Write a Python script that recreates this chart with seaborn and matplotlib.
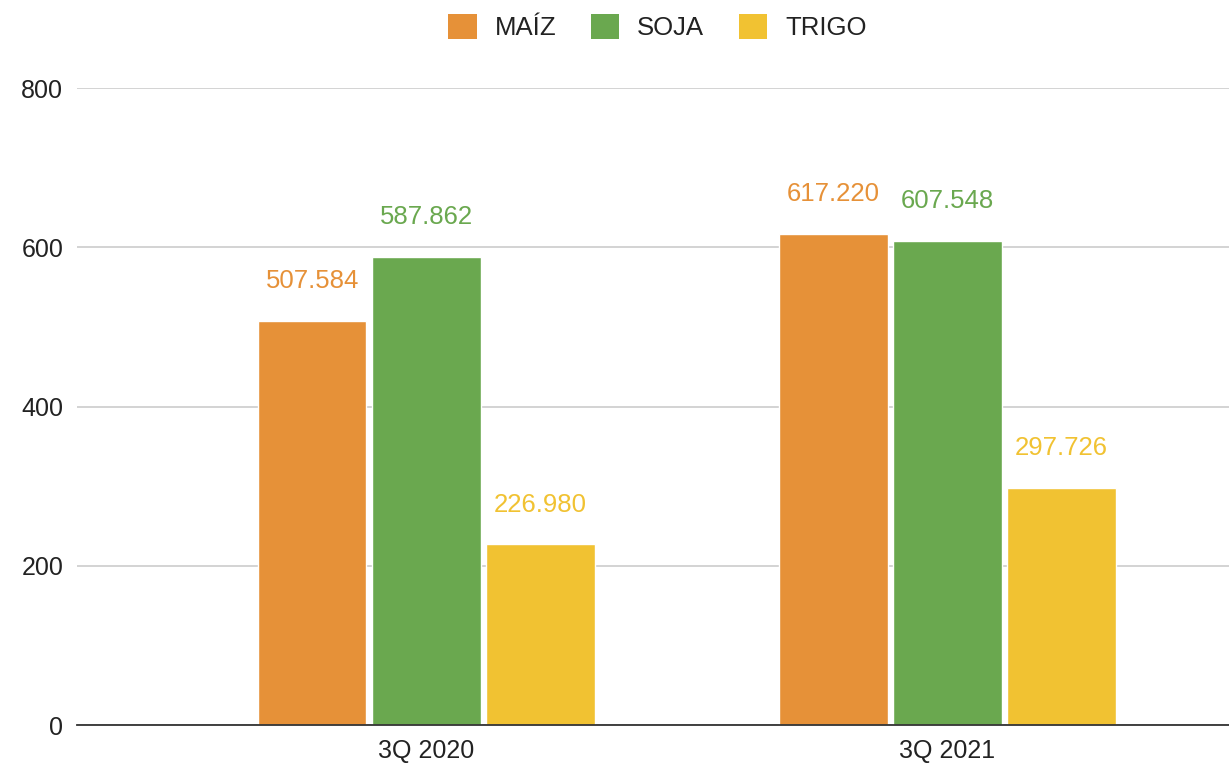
import matplotlib
matplotlib.use("Agg")
import matplotlib.pyplot as plt
import seaborn as sns
import pandas as pd

quarters = ["3Q 2020", "3Q 2021"]
crops = ["MAÍZ", "SOJA", "TRIGO"]
maiz = [507.584, 617.220]
soja = [587.862, 607.548]
trigo = [226.980, 297.726]
colors = ["#E69138", "#6AA84F", "#F1C232"]

rows = []
for q, m, s, t in zip(quarters, maiz, soja, trigo):
    rows += [(q, "MAÍZ", m), (q, "SOJA", s), (q, "TRIGO", t)]
df = pd.DataFrame(rows, columns=["quarter", "crop", "value"])

sns.set_theme(style="white")
plt.rcParams["font.family"] = ["Liberation Sans", "DejaVu Sans"]

fig = plt.figure(figsize=(12.29, 7.7), dpi=100)
ax = fig.add_axes([0.0627, 0.0584, 0.9373, 0.8273])

sns.barplot(data=df, x="quarter", y="value", hue="crop", order=quarters,
            hue_order=crops, palette=colors, width=0.657, gap=0.05,
            saturation=1, ax=ax, legend=False)

for cont, c in zip(ax.containers, colors):
    ax.bar_label(cont, labels=[f"{v:.3f}" for v in cont.datavalues],
                 padding=20, color=c, fontsize=18.5)

ax.set_ylim(0, 800)
ax.set_xlim(-0.67, 1.54)
ax.set_yticks([0, 200, 400, 600, 800])
ax.yaxis.grid(True, color="#cccccc", linewidth=1.2)
ax.set_axisbelow(True)
for s in ["top", "right", "left"]:
    ax.spines[s].set_visible(False)
ax.spines["bottom"].set_color("#333333")
ax.spines["bottom"].set_linewidth(1.3)
ax.tick_params(axis="both", length=0, labelsize=18, colors="#222222")
ax.tick_params(axis="x", pad=10)
ax.tick_params(axis="y", pad=10)
ax.set_xlabel("")
ax.set_ylabel("")

from matplotlib.patches import Patch
handles = [Patch(facecolor=c, edgecolor="none") for c in colors]
fig.legend(handles, crops, loc="upper center", bbox_to_anchor=(0.535, 1.012),
           ncol=3, frameon=False, fontsize=18.5, handlelength=1.1,
           handleheight=1.1, columnspacing=1.35, handletextpad=0.7,
           labelcolor="#222222")

fig.savefig("out.png", dpi=100)
